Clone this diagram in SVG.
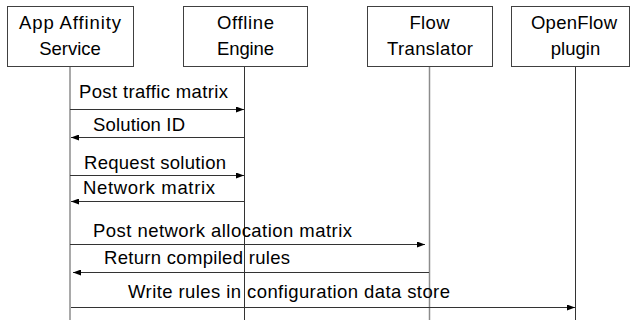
<svg xmlns="http://www.w3.org/2000/svg" width="631" height="320" viewBox="0 0 631 320">
  <style>
    .box { fill: #fff; stroke: #404040; stroke-width: 1; }
    .life { stroke: #8c8c8c; stroke-width: 1.5; }
    .life.dark { stroke: #333; stroke-width: 1; }
    .msg { stroke: #333; stroke-width: 1; fill: none; }
    text { font-family: "Liberation Sans", Arial, sans-serif; font-size: 18.5px; fill: #000; }
    .c { text-anchor: middle; }
  </style>
  <defs>
    <marker id="arrow" viewBox="0 0 8 6" refX="8" refY="3" markerWidth="8" markerHeight="6" markerUnits="userSpaceOnUse" orient="auto">
      <path d="M0,0 L8,3 L0,6 Z" fill="#000"/>
    </marker>
  </defs>
  <rect width="631" height="320" fill="#fff"/>

  <!-- lifelines -->
  <g id="lifelines">
    <line class="life" x1="70" y1="66" x2="70" y2="320"/>
    <line class="life dark" x1="244.5" y1="66" x2="244.5" y2="320"/>
    <line class="life" x1="429.5" y1="66" x2="429.5" y2="320"/>
    <line class="life dark" x1="575.5" y1="66" x2="575.5" y2="320"/>
  </g>

  <g id="app-affinity-service">
    <rect class="box" x="7.5" y="6.5" width="126" height="60"/>
    <text class="c" x="70" y="29" textLength="102">App Affinity</text>
    <text class="c" x="70" y="55">Service</text>
  </g>
  <g id="offline-engine">
    <rect class="box" x="183.5" y="6.5" width="124" height="60"/>
    <text class="c" x="245.5" y="29" textLength="57">Offline</text>
    <text class="c" x="245.5" y="55" textLength="57">Engine</text>
  </g>
  <g id="flow-translator">
    <rect class="box" x="367.5" y="6.5" width="125" height="60"/>
    <text class="c" x="429.5" y="29" textLength="40">Flow</text>
    <text class="c" x="430" y="55" textLength="86">Translator</text>
  </g>
  <g id="openflow-plugin">
    <rect class="box" x="511.5" y="6.5" width="118" height="60"/>
    <text class="c" x="574" y="29" textLength="86">OpenFlow</text>
    <text class="c" x="575.5" y="55">plugin</text>
  </g>

  <g id="connectors">
    <line class="msg" x1="70" y1="109.5" x2="244" y2="109.5" marker-end="url(#arrow)"/>
    <line class="msg" x1="244" y1="137.5" x2="71" y2="137.5" marker-end="url(#arrow)"/>
    <line class="msg" x1="70" y1="175.5" x2="244" y2="175.5" marker-end="url(#arrow)"/>
    <line class="msg" x1="244" y1="201.5" x2="71" y2="201.5" marker-end="url(#arrow)"/>
    <line class="msg" x1="70" y1="244.5" x2="425" y2="244.5" marker-end="url(#arrow)"/>
    <line class="msg" x1="429" y1="272.5" x2="73" y2="272.5" marker-end="url(#arrow)"/>
    <line class="msg" x1="71" y1="307.5" x2="575" y2="307.5" marker-end="url(#arrow)"/>

    <text x="79" y="98" textLength="149">Post traffic matrix</text>
    <text x="93" y="131" textLength="92">Solution ID</text>
    <text x="84" y="169" textLength="142">Request solution</text>
    <text x="83" y="194" textLength="132">Network matrix</text>
    <text x="93" y="237" textLength="259">Post network allocation matrix</text>
    <text x="104" y="264" textLength="186">Return compiled rules</text>
    <text x="128" y="298" textLength="322">Write rules in configuration data store</text>
  </g>
</svg>
